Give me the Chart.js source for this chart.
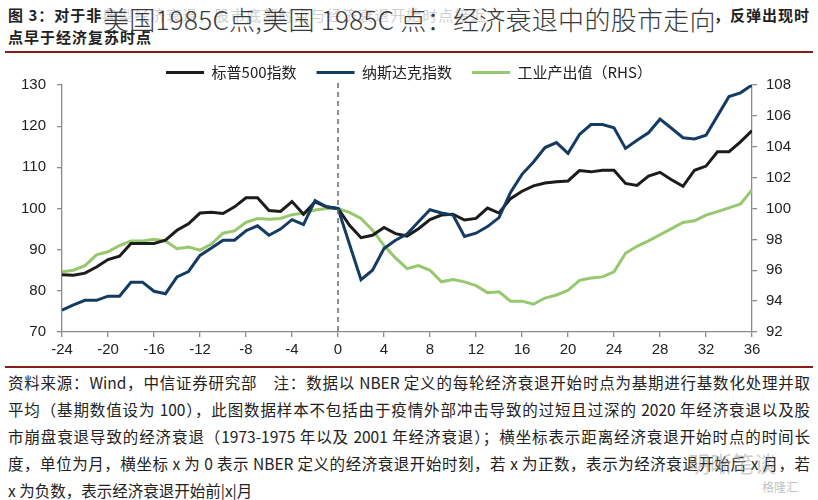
<!DOCTYPE html>
<html lang="zh-CN">
<head>
<meta charset="utf-8">
<script src="https://cdn.jsdelivr.net/npm/chart.js@4.4.1/dist/chart.umd.min.js"></script>
<style>
  html, body { margin: 0; padding: 0; background: #fff; }
  body { width: 818px; height: 500px; position: relative; overflow: hidden;
         font-family: "Noto Sans CJK SC", "Liberation Sans", sans-serif; color: #222; }
  .t1, .t2 { position: absolute; left: 8px; font-size: 15px; font-weight: bold; letter-spacing: 1px; white-space: nowrap; }
  .t1 { top: 4px; width: 802px; }
  .t1 .r { position: absolute; right: 0; top: 0; }
  .t1 .faint { color: #cfcfcf; font-weight: normal; }
  .t2 { top: 26px; }
  .over { position: absolute; left: 103px; top: 0px; font-family: "Noto Sans CJK SC", "Noto Sans", sans-serif;
          font-size: 26px; font-weight: 300; color: #3a3a3a; white-space: nowrap; letter-spacing: 0.3px; }
  .rule { position: absolute; left: 5px; width: 808px; height: 2px; background: #8c1c1c; }
  #wrap { position: absolute; left: 0; top: 40px; width: 818px; height: 322px; }
  .note { position: absolute; left: 8px; top: 369px; width: 802px; font-size: 15.5px; line-height: 27px; }
  .note div { text-align: justify; text-align-last: justify; white-space: nowrap; }
  .note div.last { text-align-last: left; }
  .wm { position: absolute; left: 688px; top: 446px; font-size: 22px; color: rgba(160,160,160,0.55); }
  .wm2 { position: absolute; left: 762px; top: 478px; font-size: 12px; color: rgba(150,150,150,0.6); }
</style>
</head>
<body>
<div class="t1">图 3：对于非<span class="faint">典型经济衰退，股市底部时点与经济衰退开始时点接近</span><span class="r">，反弹出现时</span></div>
<div class="t2">点早于经济复苏时点</div>
<div class="over">美国1985C点,美国 1985C 点：经济衰退中的股市走向</div>
<div class="rule" style="top:51px"></div>
<div id="wrap"><canvas id="chartCanvas"></canvas></div>
<div class="rule" style="top:366px;height:1.5px"></div>
<div class="note">
  <div>资料来源：Wind，中信证券研究部　注：数据以 NBER 定义的每轮经济衰退开始时点为基期进行基数化处理并取</div>
  <div>平均（基期数值设为 100），此图数据样本不包括由于疫情外部冲击导致的过短且过深的 2020 年经济衰退以及股</div>
  <div>市崩盘衰退导致的经济衰退（1973-1975 年以及 2001 年经济衰退）；横坐标表示距离经济衰退开始时点的时间长</div>
  <div>度，单位为月，横坐标 x 为 0 表示 NBER 定义的经济衰退开始时刻，若 x 为正数，表示为经济衰退开始后 x 月，若</div>
  <div class="last">x 为负数，表示经济衰退开始前|x|月</div>
</div>
<div class="wm">明晰笔谈</div>
<div class="wm2">格隆汇</div>
<script>
// months relative to the start of recession
var months = [-24,-23,-22,-21,-20,-19,-18,-17,-16,-15,-14,-13,-12,-11,-10,-9,-8,-7,-6,-5,-4,-3,-2,-1,
  0,1,2,3,4,5,6,7,8,9,10,11,12,13,14,15,16,17,18,19,20,21,22,23,24,25,26,27,28,29,30,31,32,33,34,35,36];

var sp500 = [83.9,83.8,84.3,85.8,87.6,88.4,91.5,91.5,91.5,92.3,94.7,96.3,98.9,99.1,98.8,100.4,102.6,102.6,99.5,99.3,101.7,98.6,101.6,100.4,
  100,95.9,92.9,93.5,95.4,93.9,93.3,95.1,97.3,98.4,98.6,97.2,97.6,100.1,98.9,102.4,104.2,105.5,106.2,106.5,106.7,
  109.2,108.9,109.3,109.3,106.1,105.6,107.9,108.8,107.0,105.4,109.3,110.3,113.8,113.8,116.2,118.9];

var nasdaq = [75.3,76.6,77.7,77.7,78.7,78.7,82.1,82.1,79.9,79.3,83.4,84.7,88.6,90.4,92.3,92.3,94.6,95.8,93.5,95.0,97.3,96.1,101.9,100.4,
  100,91.3,82.7,85.0,90.3,92.3,93.8,96.8,99.7,98.9,98.4,93.2,94.0,95.6,97.8,103.9,108.3,111.3,114.8,116.0,113.4,
  118.0,120.4,120.4,119.6,114.6,116.6,118.4,121.7,119.5,117.2,116.9,117.8,122.5,127.2,128.1,130.0];

var indProd = [95.9,96.0,96.3,97.0,97.2,97.6,97.9,97.9,98.0,97.9,97.4,97.5,97.3,97.7,98.4,98.55,99.1,99.35,99.3,99.35,99.6,99.7,99.9,100.0,
  100,99.75,99.35,98.6,97.6,96.8,96.1,96.3,96.0,95.25,95.4,95.25,95.0,94.55,94.6,94.0,94.0,93.8,94.2,94.4,94.7,
  95.35,95.5,95.57,95.9,97.1,97.55,97.9,98.3,98.7,99.1,99.2,99.57,99.8,100.04,100.3,101.2];

var seriesNames = ['标普500指数', '纳斯达克指数', '工业产出值（RHS）'];

function pairs(vals) {
  var out = [];
  for (var i in months) out.push({x: months[i], y: vals[i]});
  return out;
}

var axisColor = '#8a8a8a';
var tickFont = {family: 'Liberation Sans', size: 15};

// dashed line at x = 0, and nudge the legend a bit lower
var zeroLine = {
  id: 'zeroLine',
  afterLayout: function(chart) {
    chart.legend.top += 5;
    chart.legend.bottom += 5;
  },
  afterDatasetsDraw: function(chart) {
    var x = chart.scales.x.getPixelForValue(0);
    var a = chart.chartArea;
    var c = chart.ctx;
    c.save();
    c.strokeStyle = '#6a6a6a';
    c.lineWidth = 1.5;
    c.setLineDash([5, 4]);
    c.beginPath();
    c.moveTo(x, a.top - 2);
    c.lineTo(x, a.bottom);
    c.stroke();
    c.restore();
  }
};

var chartdata = {
  datasets: [
    {label: seriesNames[0], data: pairs(sp500), yAxisID: 'y', borderColor: '#1c1c1c', backgroundColor: '#1c1c1c', borderWidth: 3, pointRadius: 0, tension: 0, order: 2},
    {label: seriesNames[1], data: pairs(nasdaq), yAxisID: 'y', borderColor: '#143c62', backgroundColor: '#143c62', borderWidth: 3, pointRadius: 0, tension: 0, order: 1},
    {label: seriesNames[2], data: pairs(indProd), yAxisID: 'y1', borderColor: '#96c86e', backgroundColor: '#96c86e', borderWidth: 3, pointRadius: 0, tension: 0, order: 3}
  ]
};

var ctx = document.getElementById('chartCanvas');

var lineGraph = new Chart(ctx, {
  type: 'line',
  data: chartdata,
  plugins: [zeroLine],
  options: {
    responsive: true,
    maintainAspectRatio: false,
    animation: false,
    layout: {padding: {left: 0, right: 0, top: 0, bottom: 0}},
    plugins: {
      tooltip: {enabled: false},
      legend: {
        position: 'top',
        labels: {
          sort: function(a, b) { return a.datasetIndex - b.datasetIndex; },
          usePointStyle: true,
          pointStyle: 'line',
          pointStyleWidth: 38,
          boxHeight: 15,
          padding: 20,
          color: '#222',
          font: {family: 'Noto Sans CJK SC', size: 15}
        }
      }
    },
    scales: {
      x: {
        type: 'linear',
        min: -24, max: 36,
        afterFit: function(s) { s.height = 30; },
        ticks: {stepSize: 4, padding: 4, color: '#222', font: tickFont},
        grid: {drawOnChartArea: false, drawTicks: true, tickLength: 5, color: axisColor, lineWidth: 1.3},
        border: {color: axisColor, width: 1.3}
      },
      y: {
        position: 'left',
        min: 70, max: 130,
        afterFit: function(s) { s.width = 62; },
        ticks: {stepSize: 10, padding: 11, color: '#222', font: tickFont},
        grid: {drawOnChartArea: false, drawTicks: true, tickLength: 5, color: axisColor, lineWidth: 1.3},
        border: {color: axisColor, width: 1.3}
      },
      y1: {
        position: 'right',
        min: 92, max: 108,
        afterFit: function(s) { s.width = 66; },
        ticks: {stepSize: 2, padding: 9, color: '#222', font: tickFont},
        grid: {drawOnChartArea: false, drawTicks: true, tickLength: 5, color: axisColor, lineWidth: 1.3},
        border: {color: axisColor, width: 1.3}
      }
    }
  }
});
</script>
</body>
</html>
